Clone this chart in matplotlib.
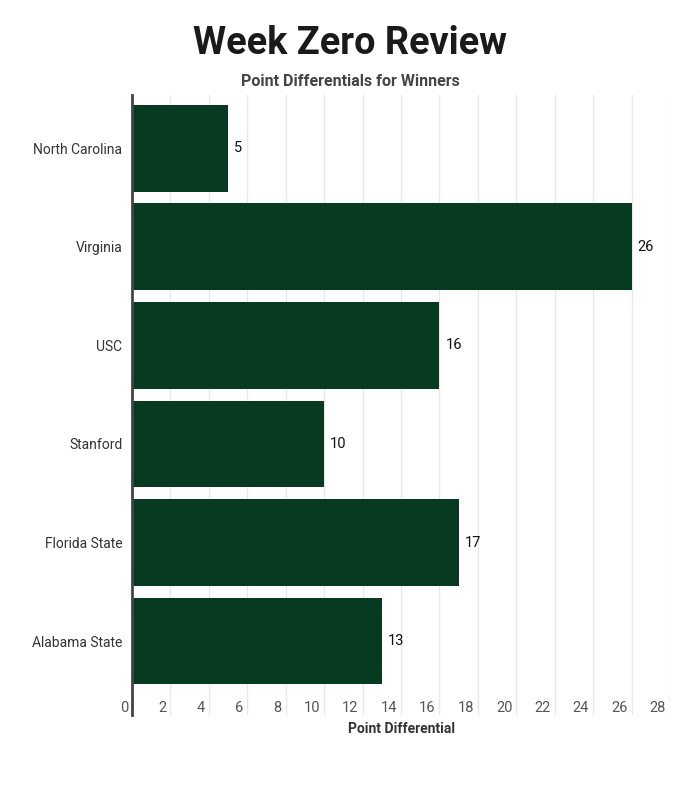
import matplotlib
matplotlib.use('Agg')
import matplotlib.pyplot as plt
import matplotlib.transforms as mtransforms

plt.rcParams['font.family'] = ['Roboto', 'DejaVu Sans']

# data
teams = ['North Carolina', 'Virginia', 'USC', 'Stanford', 'Florida State', 'Alabama State']
diffs = [5, 26, 16, 10, 17, 13]
xticks = list(range(0, 30, 2))

bar_color = '#073b21'

fig = plt.figure(figsize=(7, 8), dpi=100)
ax = fig.add_axes([132 / 700, 1 - 715 / 800, (670 - 132) / 700, (715 - 95) / 800])

ypos = list(range(len(teams)))
ax.barh(ypos, diffs, height=0.88, color=bar_color, zorder=3)

ax.set_xlim(0, 28)
ax.set_ylim(5.75, -0.54)

# vertical grid
for v in xticks[1:]:
    ax.axvline(v, color='#e8e8e8', lw=1, zorder=1)

for s in ['top', 'right', 'bottom']:
    ax.spines[s].set_visible(False)
ax.spines['left'].set_color('#444444')
ax.spines['left'].set_linewidth(2)
ax.spines['left'].set_zorder(4)

ax.set_xticks([])
ax.set_yticks(ypos)
ax.set_yticklabels(teams, fontsize=10, color='#333333')
ax.tick_params(axis='y', length=0, pad=7)

# tick labels sit inside the plot, just left of each gridline
off = mtransforms.offset_copy(ax.transData, fig=fig, x=-4, y=0, units='dots')
for v in xticks:
    ax.text(v, 5.68, str(v), transform=off, ha='right', va='center',
            fontsize=10.5, color='#555555')

# value labels
off2 = mtransforms.offset_copy(ax.transData, fig=fig, x=6, y=0, units='dots')
for y, d in zip(ypos, diffs):
    ax.text(d, y, str(d), transform=off2, ha='left', va='center',
            fontsize=10.5, color='#111111')

fig.text(401 / 700, 1 - 729 / 800, 'Point Differential', ha='center', va='center',
         fontsize=10, fontweight='bold', color='#333333')
fig.text(0.5, 1 - 43 / 800, 'Week Zero Review', ha='center', va='center',
         fontsize=27.3, fontweight='bold', color='#1a1a1a')
fig.text(0.5, 1 - 82 / 800, 'Point Differentials for Winners', ha='center', va='center',
         fontsize=11.5, fontweight='bold', color='#444444')

fig.savefig('out.png', dpi=100, facecolor='white')
